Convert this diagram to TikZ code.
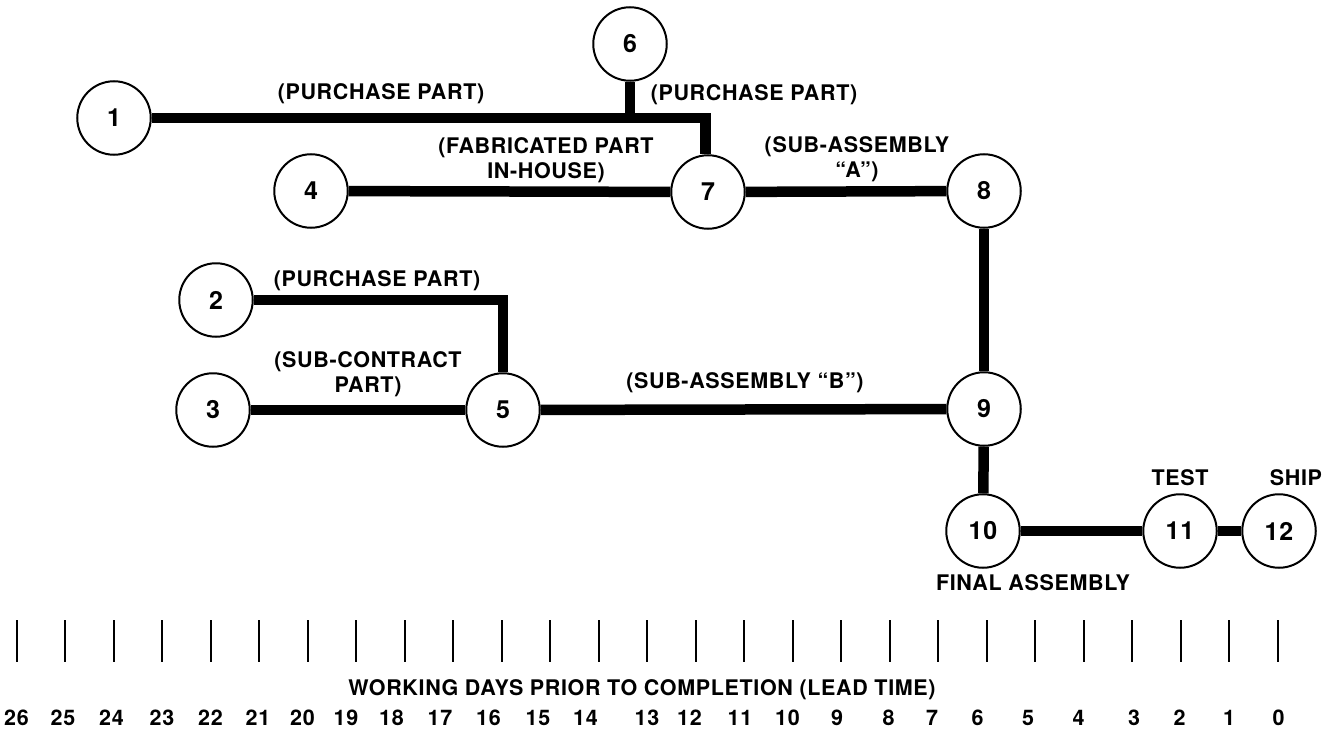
\documentclass[tikz,border=0pt]{standalone}
\usepackage{fontspec}
\setmainfont{TeX Gyre Heros}[LetterSpace=3]
\begin{document}
\begin{tikzpicture}[x=1pt,y=-1pt,
  stage/.style={draw,circle,line width=2pt,minimum size=73.5pt,inner sep=0pt,
    font=\fontsize{25}{25}\selectfont\bfseries},
  link/.style={line width=10.5pt},
  tag/.style={font=\fontsize{21.5}{24.5}\selectfont\bfseries,align=center,inner sep=0pt},
  daytick/.style={line width=2pt}]
\useasboundingbox (0,0) rectangle (1325,733);

% activities
\node[stage] (n1) at (114,118) {1};
\node[stage] (n6) at (630,44) {6};
\node[stage] (n4) at (311,191) {4};
\node[stage] (n7) at (708,192) {7};
\node[stage] (n8) at (984,191) {8};
\node[stage] (n2) at (216,300) {2};
\node[stage] (n3) at (213,410) {3};
\node[stage] (n5) at (503,410) {5};
\node[stage] (n9) at (984,409) {9};
\node[stage] (n10) at (983,531) {10};
\node[stage] (n11) at (1180,531) {11};
\node[stage] (n12) at (1279,531) {12};

\draw[link] (n1) -| ([xshift=-2.5pt]n7.north);
\draw[link] (n6) -- (n6 |- n1);
\draw[link] (n4) -- (n7);
\draw[link] (n7) -- (n8);
\draw[link] (n8) -- (n9);
\draw[link] (n2) -| (n5);
\draw[link] (n3) -- (n5);
\draw[link] (n5) -- (n9);
\draw[link] (n9) -- (n10);
\draw[link] (n10) -- (n11);
\draw[link] (n11) -- (n12);

% what each line is
\node[tag] (t1) at (381,94) {(PURCHASE PART)};
\node[tag] (t6) at (754,95) {(PURCHASE PART)};
\node[tag] (t4) at (546,160) {(FABRICATED PART\\IN-HOUSE)};
\node[tag] (t7) at (857,159) {(SUB-ASSEMBLY\\``A'')};
\node[tag] (t2) at (377,281) {(PURCHASE PART)};
\node[tag] (t3) at (368,374) {(SUB-CONTRACT\\PART)};
\node[tag] (t5) at (745,383) {(SUB-ASSEMBLY ``B'')};
\node[tag] (t11) at (1180,478) {TEST};
\node[tag] (t12) at (1296,478) {SHIP};
\node[tag] (t10) at (1033,583) {FINAL ASSEMBLY};

% lead time scale
\foreach \d/\dx [count=\i from 0] in {26/0,25/-2,24/-2,23/0,22/0,21/-1,20/-5,
    19/-10,18/-13,17/-13,16/-13,15/-12,14/-13,13/0,12/-6,11/-4,10/-5,9/-4,
    8/-1,7/-6,6/-9,5/-7,4/-5,3/2,2/-1,1/0,0/1} {
  \draw[daytick] (16.5+48.5*\i,620) -- (16.5+48.5*\i,662);
  \node[tag] (d\d) at (16.5+48.5*\i+\dx,718) {\d};
}
\node[tag] (axis) at (642,690) {WORKING DAYS PRIOR TO COMPLETION (LEAD TIME)};
\end{tikzpicture}
\end{document}
